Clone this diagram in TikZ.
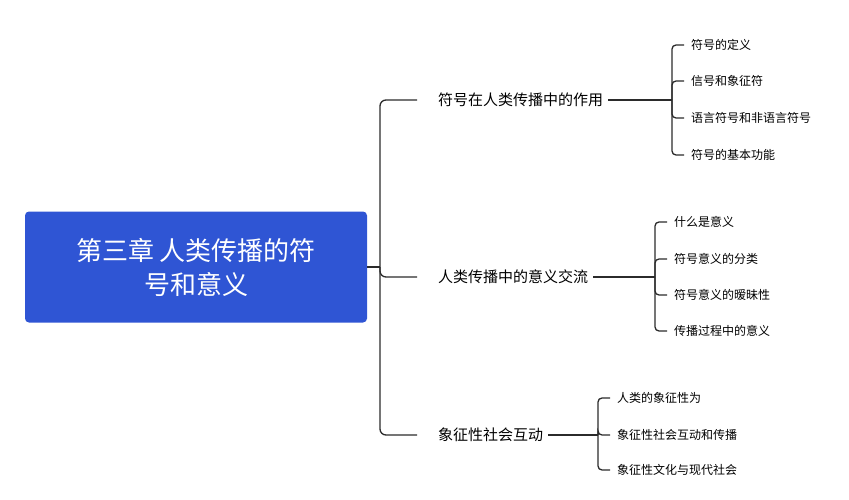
\documentclass[tikz,border=0pt]{standalone}
\usepackage{fontspec}
\setmainfont{Noto Sans CJK SC}
\usetikzlibrary{positioning}
\definecolor{rootblue}{HTML}{2F55D4}
\definecolor{linegray}{HTML}{2B2B2B}
\tikzset{
  root/.style={fill=rootblue,rounded corners=4pt,text=white,minimum width=342pt,minimum height=111pt,align=center,font=\fontsize{26}{34}\selectfont},
  branch/.style={anchor=west,inner sep=1pt,font=\fontsize{15}{18}\selectfont},
  leaf/.style={anchor=west,inner sep=1pt,font=\fontsize{12}{14}\selectfont},
  conn/.style={draw=linegray,line width=1.3pt,rounded corners=6pt}
}
\begin{document}
\begin{tikzpicture}[x=1pt,y=-1pt]
    \useasboundingbox (0,0) rectangle (849,500);
    \node[root](r) at (196,267) {第三章 人类传播的符\\号和意义};
    \coordinate (t) at (380,267);
    % main branches
    \node[branch](b1) at (437,100) {符号在人类传播中的作用};
    \node[branch](b2) at (437,277) {人类传播中的意义交流};
    \node[branch](b3) at (437,435) {象征性社会互动};
    \draw[conn] (r.east) -- (t);
    \draw[conn] (t) |- ([xshift=-20pt]b1.west);
    \draw[conn] (t) |- ([xshift=-20pt]b2.west);
    \draw[conn] (t) |- ([xshift=-20pt]b3.west);
    % leaves of branch 1
    \coordinate (s1) at (672,100);
    \foreach \n/\y/\txt in {a/45/符号的定义,b/81/信号和象征符,c/118/语言符号和非语言符号,d/155/符号的基本功能}{
      \node[leaf](l1\n) at (690,\y) {\txt};
      \draw[conn,rounded corners=4pt] (s1) |- ([xshift=-6pt]l1\n.west);
    }
    \draw[conn] ([xshift=4pt]b1.east) -- (s1);
    % leaves of branch 2
    \coordinate (s2) at (655,277);
    \foreach \n/\y/\txt in {a/222/什么是意义,b/259/符号意义的分类,c/295/符号意义的暧昧性,d/331/传播过程中的意义}{
      \node[leaf](l2\n) at (673,\y) {\txt};
      \draw[conn,rounded corners=4pt] (s2) |- ([xshift=-6pt]l2\n.west);
    }
    \draw[conn] ([xshift=4pt]b2.east) -- (s2);
    % leaves of branch 3
    \coordinate (s3) at (598,435);
    \foreach \n/\y/\txt in {a/398/人类的象征性为,b/435/象征性社会互动和传播,c/470/象征性文化与现代社会}{
      \node[leaf](l3\n) at (616,\y) {\txt};
      \draw[conn,rounded corners=4pt] (s3) |- ([xshift=-6pt]l3\n.west);
    }
    \draw[conn] ([xshift=4pt]b3.east) -- (s3);
\end{tikzpicture}
\end{document}
